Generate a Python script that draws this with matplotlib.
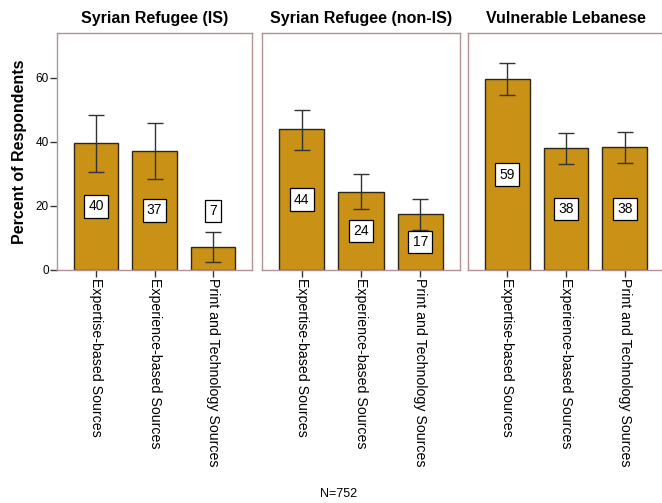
import matplotlib
matplotlib.use("Agg")
import matplotlib.pyplot as plt

plt.rcParams['font.family'] = ['Liberation Sans', 'DejaVu Sans']

groups = ["Syrian Refugee (IS)", "Syrian Refugee (non-IS)", "Vulnerable Lebanese"]
categories = ["Expertise-based Sources", "Experience-based Sources", "Print and Technology Sources"]

# percent of respondents, with 95% CI bounds
values = [
    [39.7, 37.2, 7.2],
    [44.0, 24.4, 17.5],
    [59.6, 38.0, 38.3],
]
labels = [
    [40, 37, 7],
    [44, 24, 17],
    [59, 38, 38],
]
ci_low = [
    [30.5, 28.5, 2.6],
    [37.5, 19.0, 12.5],
    [54.7, 33.1, 33.4],
]
ci_high = [
    [48.3, 45.8, 12.0],
    [50.0, 29.9, 22.2],
    [64.6, 42.9, 43.2],
]
y_ticks = [0, 20, 40, 60]
sample_note = "N=752"

W, H = 662, 503
fig = plt.figure(figsize=(W / 100, H / 100), dpi=100)

bar_color = "#c99116"
frame_color = "#b48f94"
panel_px = [(57, 252), (262, 460), (468, 664)]
top_px, bottom_px = 33, 270

for gi, (x0, x1) in enumerate(panel_px):
    ax = fig.add_axes([x0 / W, 1 - bottom_px / H, (x1 - x0) / W, (bottom_px - top_px) / H])
    xs = [1, 2, 3]
    vals = values[gi]
    ax.bar(xs, vals, width=0.76, color=bar_color, edgecolor="#2e2617", linewidth=1.0, zorder=2)
    lo = [v - l for v, l in zip(vals, ci_low[gi])]
    hi = [h - v for v, h in zip(vals, ci_high[gi])]
    ax.errorbar(xs, vals, yerr=[lo, hi], fmt="none", ecolor="#333333",
                elinewidth=1.0, capsize=5.5, capthick=1.0, zorder=3)
    for x, v, lab in zip(xs, vals, labels[gi]):
        ypos = v / 2 if v >= 15 else v + 11.3
        ax.text(x, ypos, str(lab), ha="center", va="center", fontsize=10, color="black",
                zorder=4,
                bbox=dict(boxstyle="square,pad=0.3", facecolor="white",
                          edgecolor="black", linewidth=0.9))
    ax.set_xlim(0.33, 3.67)
    ax.set_ylim(0, 74)
    ax.set_xticks(xs)
    ax.set_xticklabels(categories, rotation=270, fontsize=10.2, va="top", ha="center")
    ax.tick_params(axis="x", length=5, width=1, color="#333333", pad=1)
    for sp in ax.spines.values():
        sp.set_color(frame_color)
        sp.set_linewidth(1.0)
    ax.set_title(groups[gi], fontsize=11.5, fontweight="bold", pad=7)
    if gi == 0:
        ax.set_yticks(y_ticks)
        ax.tick_params(axis="y", length=5, width=1, color="#333333", labelsize=8.5, pad=1)
        ax.set_ylabel("Percent of Respondents", fontsize=11.5, fontweight="bold", labelpad=6)
    else:
        ax.set_yticks([])

fig.text(339 / W, 1 - 494 / H, sample_note, ha="center", va="center", fontsize=9)

fig.savefig("out.png", dpi=100)
